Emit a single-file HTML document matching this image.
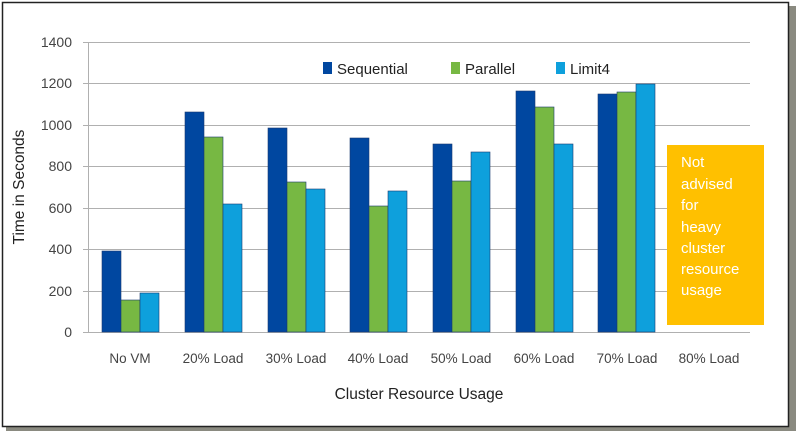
<!DOCTYPE html><html><head><style>body{margin:0;background:#fff}</style></head><body>
<svg width="800" height="433" xmlns="http://www.w3.org/2000/svg" font-family="Liberation Sans, sans-serif">
<rect x="0" y="0" width="800" height="433" fill="#fff"/>
<rect x="6" y="6" width="790" height="425" fill="#8a8a80"/>
<rect x="2.5" y="2.5" width="786" height="424" fill="#fff" stroke="#222" stroke-width="1.5"/>
<g stroke="#b0b0b0" stroke-width="1">
<line x1="83" y1="42.5" x2="750" y2="42.5"/><line x1="83" y1="83.5" x2="750" y2="83.5"/>
<line x1="83" y1="125.5" x2="750" y2="125.5"/><line x1="83" y1="166.5" x2="750" y2="166.5"/>
<line x1="83" y1="208.5" x2="750" y2="208.5"/><line x1="83" y1="249.5" x2="750" y2="249.5"/>
<line x1="83" y1="291.5" x2="750" y2="291.5"/><line x1="83" y1="332.5" x2="750" y2="332.5"/>
<line x1="88.5" y1="42" x2="88.5" y2="333"/></g>
<g font-size="14" fill="#444" text-anchor="end">
<text x="72" y="47">1400</text><text x="72" y="88">1200</text><text x="72" y="130">1000</text>
<text x="72" y="171">800</text><text x="72" y="213">600</text><text x="72" y="254">400</text>
<text x="72" y="296">200</text><text x="72" y="337">0</text></g>
<rect x="667" y="145" width="97" height="180" fill="#ffc000"/>
<g font-size="15" fill="#fff"><text x="681" y="167">Not</text><text x="681" y="189">advised</text><text x="681" y="210">for</text><text x="681" y="232">heavy</text><text x="681" y="253">cluster</text><text x="681" y="274">resource</text><text x="681" y="295">usage</text></g>
<rect x="323" y="62" width="9" height="12" fill="#0047a0"/><text x="337" y="74" font-size="15" fill="#222">Sequential</text>
<rect x="451" y="62" width="9" height="12" fill="#77b843"/><text x="465" y="74" font-size="15" fill="#222">Parallel</text>
<rect x="556" y="62" width="9" height="12" fill="#0ea0dc"/><text x="570" y="74" font-size="15" fill="#222">Limit4</text>
<g font-size="13.5" fill="#444" text-anchor="middle">
<text x="130" y="363">No VM</text><text x="213" y="363">20% Load</text><text x="296" y="363">30% Load</text>
<text x="378" y="363">40% Load</text><text x="461" y="363">50% Load</text><text x="544" y="363">60% Load</text>
<text x="627" y="363">70% Load</text><text x="709" y="363">80% Load</text></g>
<text x="419" y="399" font-size="15.5" fill="#222" text-anchor="middle">Cluster Resource Usage</text>
<text transform="translate(24,187) rotate(-90)" font-size="15.5" fill="#222" text-anchor="middle">Time in Seconds</text>
<g stroke="#1a3a70" stroke-width="0.6">
<rect x="102" y="251" width="19" height="81" fill="#0047a0"/><rect x="121" y="300" width="19" height="32" fill="#77b843"/><rect x="140" y="293" width="19" height="39" fill="#0ea0dc"/>
<rect x="185" y="112" width="19" height="220" fill="#0047a0"/><rect x="204" y="137" width="19" height="195" fill="#77b843"/><rect x="223" y="204" width="19" height="128" fill="#0ea0dc"/>
<rect x="268" y="128" width="19" height="204" fill="#0047a0"/><rect x="287" y="182" width="19" height="150" fill="#77b843"/><rect x="306" y="189" width="19" height="143" fill="#0ea0dc"/>
<rect x="350" y="138" width="19" height="194" fill="#0047a0"/><rect x="369" y="206" width="19" height="126" fill="#77b843"/><rect x="388" y="191" width="19" height="141" fill="#0ea0dc"/>
<rect x="433" y="144" width="19" height="188" fill="#0047a0"/><rect x="452" y="181" width="19" height="151" fill="#77b843"/><rect x="471" y="152" width="19" height="180" fill="#0ea0dc"/>
<rect x="516" y="91" width="19" height="241" fill="#0047a0"/><rect x="535" y="107" width="19" height="225" fill="#77b843"/><rect x="554" y="144" width="19" height="188" fill="#0ea0dc"/>
<rect x="598" y="94" width="19" height="238" fill="#0047a0"/><rect x="617" y="92" width="19" height="240" fill="#77b843"/><rect x="636" y="84" width="19" height="248" fill="#0ea0dc"/>
</g>
</svg></body></html>
